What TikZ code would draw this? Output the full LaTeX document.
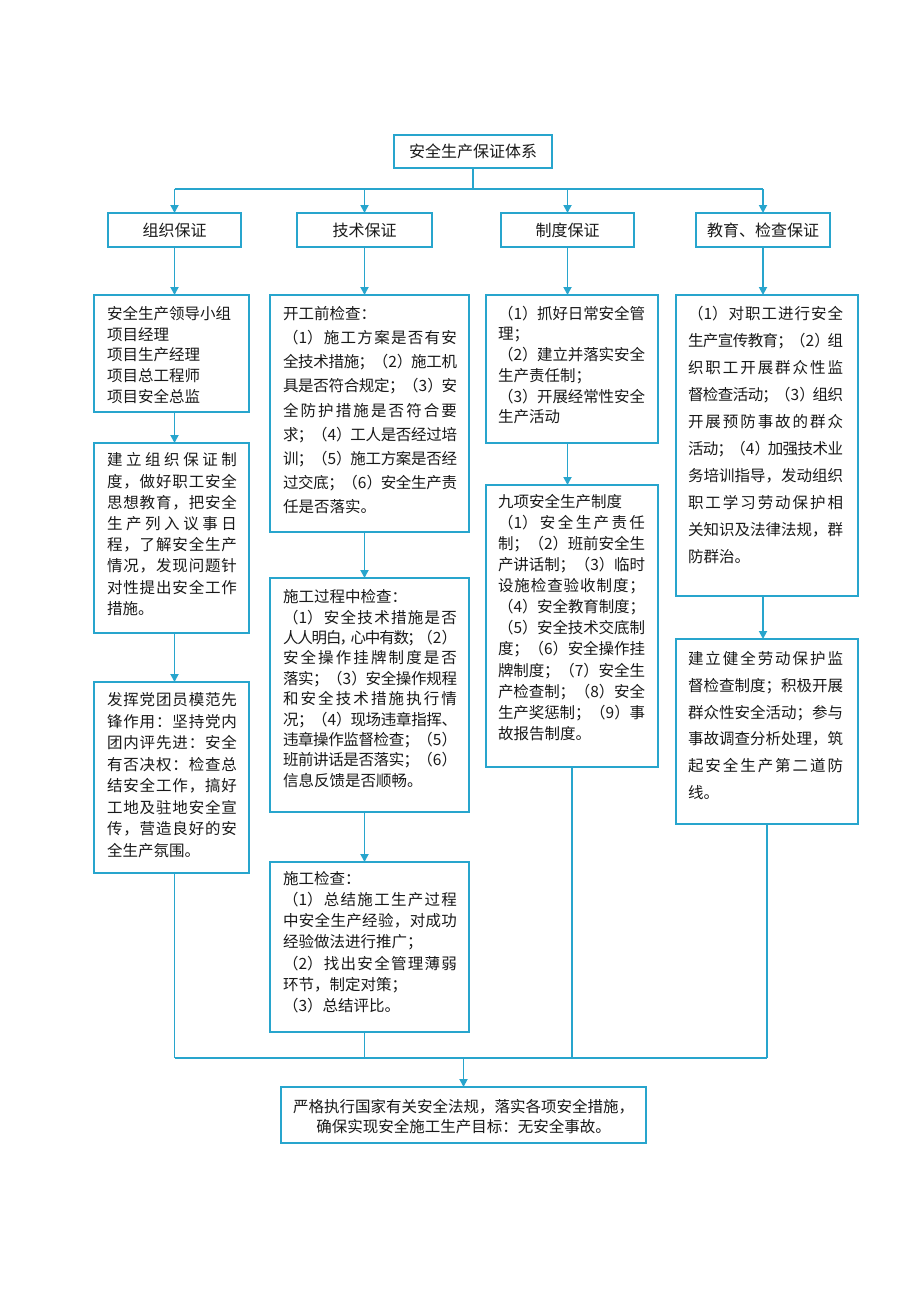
\documentclass[tikz,border=0pt]{standalone}
\usepackage{fontspec}
\setmainfont{Noto Sans CJK SC}
\usetikzlibrary{arrows.meta}
\newcount\cjkc
\cjkc="4E00
\loop\ifnum\cjkc<"A000 \XeTeXcharclass\cjkc=1 \advance\cjkc by 1 \repeat
\XeTeXcharclass"FF08=2
\XeTeXcharclass"FF09=3
\XeTeXcharclass"FF0C=3
\XeTeXcharclass"FF1A=3
\XeTeXcharclass"FF1B=3
\XeTeXcharclass"3001=3
\XeTeXcharclass"3002=3
\XeTeXinterchartokenstate=1
\XeTeXinterchartoks 1 1 = {\hskip 0pt plus 4pt minus 1.5pt\relax}
\XeTeXinterchartoks 1 3 = {\hskip 0pt plus 4pt minus 2.5pt\relax}
\XeTeXinterchartoks 3 1 = {\hskip 0pt plus 4pt minus 6pt\relax}
\XeTeXinterchartoks 3 2 = {\hskip 0pt plus 4pt minus 7pt\relax}
\XeTeXinterchartoks 1 2 = {\hskip 0pt plus 4pt minus 3pt\relax}
\definecolor{lb}{RGB}{40,165,205}
\definecolor{tx}{RGB}{25,25,25}
\newcommand\jl{\penalty-10000\relax}
\newcommand\bxt[7]{\parbox[c][#2][t]{#1}{\vspace*{#3}\leftskip=#4\relax\rightskip=#5\relax\baselineskip=#6\relax\lineskiplimit=-50pt\relax\tolerance=10000\relax\hbadness=10000\relax\noindent\rule{0pt}{14pt}#7\par}}
\tikzset{
  bx/.style={draw=lb, line width=1.8pt, inner sep=0pt, outer sep=0pt, anchor=north west, text=tx, font=\fontsize{15.5pt}{20pt}\selectfont},
  hd/.style={bx, minimum height=34pt, align=center, font=\fontsize{16pt}{20pt}\selectfont},
  arr/.style={draw=lb, line width=1.8pt, -{Triangle[length=8pt,width=8pt]}},
  ln/.style={draw=lb, line width=1.8pt},
}
\begin{document}
\begin{tikzpicture}[x=1pt,y=-1pt]
\fill[white] (0,0) rectangle (920,1301);
\useasboundingbox (0,0) rectangle (920,1301);

\node[hd, minimum width=158pt, minimum height=33pt] (T) at (394,135) {安全生产保证体系};
\node[hd, minimum width=133pt] (O) at (108,213) {组织保证};
\node[hd, minimum width=135pt] (J) at (297,213) {技术保证};
\node[hd, minimum width=133pt] (Z) at (501,213) {制度保证};
\node[hd, minimum width=134pt] (E) at (696,213) {教育、检查保证};

\node[bx] (A1) at (94,295) {\bxt{155pt}{117pt}{10.2pt}{13pt}{12pt}{20.8pt}{安全生产领导小组\\项目经理\\项目生产经理\\项目总工程师\\项目安全总监}};
\node[bx] (A2) at (94,443) {\bxt{155pt}{190pt}{8.9pt}{13pt}{12pt}{21.2pt}{建立组织保证制\jl 度，做好职工安全\jl 思想教育，把安全\jl 生产列入议事日\jl 程，了解安全生产\jl 情况，发现问题针\jl 对性提出安全工作\jl 措施。}};
\node[bx] (A3) at (94,682) {\bxt{155pt}{191pt}{9.9pt}{13pt}{12pt}{21.5pt}{发挥党团员模范先\jl 锋作用：坚持党内\jl 团内评先进：安全\jl 有否决权：检查总\jl 结安全工作，搞好\jl 工地及驻地安全宣\jl 传，营造良好的安\jl 全生产氛围。}};

\node[bx] (B1) at (270,295) {\bxt{199pt}{237pt}{10.2pt}{13pt}{12pt}{24.2pt}{开工前检查：\\（1）施工方案是否有安\jl 全技术措施；（2）施工机\jl 具是否符合规定；（3）安\jl 全防护措施是否符合要\jl 求；（4）工人是否经过培\jl 训；（5）施工方案是否经\jl 过交底；（6）安全生产责\jl 任是否落实。}};
\node[bx] (B2) at (270,578) {\bxt{199pt}{234pt}{10.6pt}{13pt}{12pt}{20.4pt}{施工过程中检查：\\（1）安全技术措施是否\jl 人人明白，心中有数；（2）\jl 安全操作挂牌制度是否\jl 落实；（3）安全操作规程\jl 和安全技术措施执行情\jl 况；（4）现场违章指挥、\jl 违章操作监督检查；（5）\jl 班前讲话是否落实；（6）\jl 信息反馈是否顺畅。}};
\node[bx] (B3) at (270,862) {\bxt{199pt}{170pt}{8.2pt}{13pt}{12pt}{21.2pt}{施工检查：\\（1）总结施工生产过程\jl 中安全生产经验，对成功\jl 经验做法进行推广；\\（2）找出安全管理薄弱\jl 环节，制定对策；\\（3）总结评比。}};

\node[bx] (C1) at (486,295) {\bxt{172pt}{148pt}{10.2pt}{12pt}{13pt}{20.7pt}{（1）抓好日常安全管\jl 理；\\（2）建立并落实安全\jl 生产责任制；\\（3）开展经常性安全\jl 生产活动}};
\node[bx] (C2) at (486,485) {\bxt{172pt}{282pt}{8.6pt}{12pt}{13pt}{21.05pt}{九项安全生产制度\\（1）安全生产责任\jl 制；（2）班前安全生\jl 产讲话制；（3）临时\jl 设施检查验收制度；\jl （4）安全教育制度；\jl （5）安全技术交底制\jl 度；（6）安全操作挂\jl 牌制度；（7）安全生\jl 产检查制；（8）安全\jl 生产奖惩制；（9）事\jl 故报告制度。}};

\node[bx] (D1) at (676,295) {\bxt{182pt}{301pt}{10.2pt}{12pt}{15pt}{27pt}{（1）对职工进行安全\jl 生产宣传教育；（2）组\jl 织职工开展群众性监\jl 督检查活动；（3）组织\jl 开展预防事故的群众\jl 活动；（4）加强技术业\jl 务培训指导，发动组织\jl 职工学习劳动保护相\jl 关知识及法律法规，群\jl 防群治。}};
\node[bx] (D2) at (676,639) {\bxt{182pt}{185pt}{11.2pt}{12pt}{15pt}{26.9pt}{建立健全劳动保护监\jl 督检查制度；积极开展\jl 群众性安全活动；参与\jl 事故调查分析处理，筑\jl 起安全生产第二道防\jl 线。}};

\node[bx] (F) at (281,1087) {\parbox[c][56pt][t]{365pt}{\vspace*{11.6pt}\centering\baselineskip=20pt\relax\lineskiplimit=-50pt\relax\rule{0pt}{14pt}严格执行国家有关安全法规，落实各项安全措施，\\确保实现安全施工生产目标：无安全事故。\par}};

\coordinate (bus) at (474,189);
\coordinate (bot) at (463.5,1058);

\draw[ln] (T.south) -- (T.south |- bus);
\draw[ln] (O.north |- bus) -- (E.north |- bus);
\foreach \n in {O,J,Z,E} \draw[arr] (\n.north |- bus) -- (\n.north);

\draw[arr] (O.south) -- (O.south |- A1.north);
\draw[arr] (O.south |- A1.south) -- (O.south |- A2.north);
\draw[arr] (O.south |- A2.south) -- (O.south |- A3.north);
\draw[ln] (O.south |- A3.south) -- (O.south |- bot);

\draw[arr] (J.south) -- (J.south |- B1.north);
\draw[arr] (J.south |- B1.south) -- (J.south |- B2.north);
\draw[arr] (J.south |- B2.south) -- (J.south |- B3.north);
\draw[ln] (J.south |- B3.south) -- (J.south |- bot);

\draw[arr] (Z.south) -- (Z.south |- C1.north);
\draw[arr] (Z.south |- C1.south) -- (Z.south |- C2.north);
\draw[ln] (C2.south) -- (C2.south |- bot);

\draw[arr] (E.south) -- (E.south |- D1.north);
\draw[arr] (E.south |- D1.south) -- (E.south |- D2.north);
\draw[ln] (D2.south) -- (D2.south |- bot);

\draw[ln] (O.south |- bot) -- (D2.south |- bot);
\draw[arr] (F.north |- bot) -- (F.north);
\end{tikzpicture}
\end{document}
